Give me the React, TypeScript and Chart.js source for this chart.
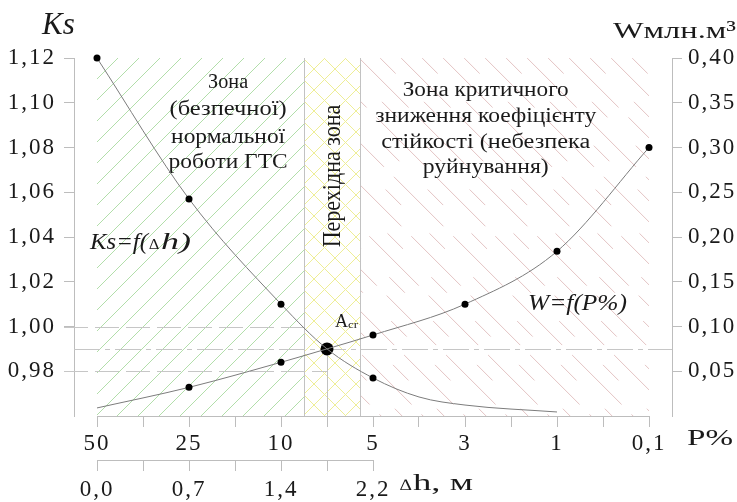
import React, { useEffect, useRef } from 'react';
import { Chart, registerables } from 'chart.js';

Chart.register(...registerables);

// ---- data ----
const pTickLabels = ['50', '', '25', '', '10', '', '5', '', '3', '', '1', '', '0,1'];
const hTickLabels = ['0,0', '', '0,7', '', '1,4', '', '2,2'];
const ksTicks = [0.98, 1.0, 1.02, 1.04, 1.06, 1.08, 1.1, 1.12];
const wTicks = [0.05, 0.1, 0.15, 0.2, 0.25, 0.3, 0.35, 0.4];

const ksX = [0, 2, 4, 5, 6, 7, 8, 10];
const ksValues = [1.12, 1.057, 1.01, 0.99, 0.977, 0.9685, 0.9649, 0.9618];
const ksMarked = [true, true, true, false, true, false, false, false];

const wX = [0, 2, 4, 5, 6, 8, 10, 12];
const wValues = [0.009, 0.032, 0.06, 0.075, 0.0905, 0.125, 0.184, 0.3];
const wMarked = [false, true, true, false, true, true, true, true];

const acrX = 5;
const acrKs = 0.99;
const zoneBounds = [0, 4.5, 5.72, 12];
const ksMin = 0.96, ksMax = 1.12;
const wMin = 0, wMax = 0.4;
const xMin = -0.5, xMax = 12.5;

const SERIF = 'Liberation Serif';

function drawText(ctx: CanvasRenderingContext2D, text: string, x: number, y: number, font: string, targetWidth?: number, align: 'left' | 'center' = 'left') {
  ctx.save();
  ctx.font = font;
  ctx.textAlign = 'left';
  ctx.textBaseline = 'alphabetic';
  const w = ctx.measureText(text).width;
  const sx = targetWidth ? targetWidth / w : 1;
  const x0 = align === 'center' ? x - (w * sx) / 2 : x;
  ctx.translate(x0, y);
  ctx.scale(sx, 1);
  ctx.fillStyle = '#1a1a1a';
  ctx.fillText(text, 0, 0);
  ctx.restore();
}

function hatch(ctx: CanvasRenderingContext2D, x0: number, y0: number, x1: number, y1: number, step: number, dir: number, color: string, dashes?: number[][]) {
  ctx.save();
  ctx.beginPath();
  ctx.rect(x0, y0, x1 - x0, y1 - y0);
  ctx.clip();
  ctx.strokeStyle = color;
  ctx.lineWidth = 1;
  const H = y1 - y0;
  let k = 0;
  for (let x = x0 - H - step; x <= x1 + step; x += step, k++) {
    if (dashes) ctx.setLineDash(dashes[k % dashes.length]);
    ctx.beginPath();
    if (dir > 0) {
      ctx.moveTo(x, y1);
      ctx.lineTo(x + H, y0);
    } else {
      ctx.moveTo(x, y0);
      ctx.lineTo(x + H, y1);
    }
    ctx.stroke();
  }
  ctx.restore();
}

const overlay = {
  id: 'overlay',
  beforeDraw(chart: any) {
    (chart.ctx as any).letterSpacing = '2px';
  },
  beforeDatasetsDraw(chart: any) {
    const ctx: CanvasRenderingContext2D = chart.ctx;
    (ctx as any).letterSpacing = '0px';
    const { top, bottom, left, right } = chart.chartArea;
    const xs = chart.scales.x;
    const ys = chart.scales.y;
    const zx = zoneBounds.map((v) => xs.getPixelForValue(v));

    hatch(ctx, zx[0], top, zx[1], bottom, 21, 1, '#b2deaa');
    hatch(ctx, zx[1], top, zx[2], bottom, 21, 1, '#eeee96');
    hatch(ctx, zx[1], top, zx[2], bottom, 21, -1, '#eeee96');
    hatch(ctx, zx[2], top, zx[3], bottom, 21, -1, '#e3c3c3', [[70, 14], [22, 40]]);

    ctx.save();
    ctx.strokeStyle = '#c2c2c2';
    ctx.lineWidth = 1;
    [zx[1], zx[2]].forEach((px) => {
      ctx.beginPath();
      ctx.moveTo(Math.round(px) + 0.5, top);
      ctx.lineTo(Math.round(px) + 0.5, bottom);
      ctx.stroke();
    });
    const ax = xs.getPixelForValue(acrX);
    const ay = ys.getPixelForValue(acrKs);
    ctx.beginPath();
    ctx.moveTo(Math.round(ax) + 0.5, ay);
    ctx.lineTo(Math.round(ax) + 0.5, bottom);
    ctx.stroke();

    ctx.strokeStyle = '#c6c6c6';
    ctx.setLineDash([24, 7]);
    const y100 = Math.round(ys.getPixelForValue(1.0)) + 0.5;
    ctx.beginPath();
    ctx.moveTo(left - 10, y100);
    ctx.lineTo(zx[1], y100);
    ctx.stroke();
    const y098 = Math.round(ys.getPixelForValue(0.98)) + 0.5;
    ctx.beginPath();
    ctx.moveTo(left - 10, y098);
    ctx.lineTo(ax, y098);
    ctx.stroke();
    ctx.setLineDash([26, 5, 5, 5]);
    const yA = Math.round(ay) + 0.5;
    ctx.beginPath();
    ctx.moveTo(left, yA);
    ctx.lineTo(right, yA);
    ctx.stroke();
    ctx.restore();

    // zone texts
    const zf = `20px ${SERIF}`;
    const lc = xs.getPixelForValue(2.85);
    drawText(ctx, 'Зона', lc, 88, zf, 40, 'center');
    drawText(ctx, '(безпечної)', lc, 115, zf, 117, 'center');
    drawText(ctx, 'нормальної', lc, 143, zf, 114, 'center');
    drawText(ctx, 'роботи ГТС', lc, 168, zf, 119, 'center');

    const rc = xs.getPixelForValue(8.45);
    drawText(ctx, 'Зона критичного', rc, 96, zf, 166, 'center');
    drawText(ctx, 'зниження коефіцієнту', rc, 122, zf, 221, 'center');
    drawText(ctx, 'стійкості (небезпека', rc, 148, zf, 209, 'center');
    drawText(ctx, 'руйнування)', rc, 173, zf, 126, 'center');

    // rotated transition text
    ctx.save();
    const tcx = (zx[1] + zx[2]) / 2;
    ctx.translate(tcx, 176);
    ctx.rotate(-Math.PI / 2);
    ctx.scale(1, 1.12);
    ctx.font = `22px ${SERIF}`;
    ctx.textAlign = 'center';
    ctx.textBaseline = 'middle';
    ctx.fillStyle = '#1a1a1a';
    ctx.fillText('Перехідна зона', 0, 1);
    ctx.restore();

    // function labels
    drawText(ctx, 'Ks=f(', 90, 249, `italic 24px ${SERIF}`, 58);
    drawText(ctx, '∆', 149, 249, `italic 15px ${SERIF}`, 10);
    drawText(ctx, 'h)', 161, 249, `italic 24px ${SERIF}`, 30);
    drawText(ctx, 'W=f(P%)', 528, 310, `italic 24px ${SERIF}`, 99);

    // Acr label
    drawText(ctx, 'A', 335, 327, `18px ${SERIF}`, 13);
    drawText(ctx, 'cr', 348, 328, `11px ${SERIF}`, 10);
  },
  afterDraw(chart: any) {
    const ctx: CanvasRenderingContext2D = chart.ctx;
    (ctx as any).letterSpacing = '0px';
    const xs = chart.scales.x;
    const x2 = chart.scales.x2;
    ctx.save();
    ctx.strokeStyle = '#bdbdbd';
    ctx.lineWidth = 1;
    const yb = Math.round(xs.top) + 0.5;
    ctx.beginPath();
    ctx.moveTo(xs.getPixelForValue(0), yb);
    ctx.lineTo(xs.getPixelForValue(pTickLabels.length - 1), yb);
    ctx.stroke();
    const yb2 = Math.round(x2.top) + 0.5;
    ctx.beginPath();
    ctx.moveTo(x2.getPixelForValue(0), yb2);
    ctx.lineTo(x2.getPixelForValue(hTickLabels.length - 1), yb2);
    ctx.stroke();
    ctx.restore();

    drawText(ctx, 'Ks', 42, 34, `italic 31px ${SERIF}`);
    drawText(ctx, 'Wмлн.м³', 613, 38, `24px ${SERIF}`, 123);
    drawText(ctx, 'P%', 687, 445, `23px ${SERIF}`, 46);
    drawText(ctx, '∆', 400, 490, `16px ${SERIF}`, 12);
    drawText(ctx, 'h, м', 413, 490, `24px ${SERIF}`, 60);
  },
};

export default function App() {
  const ref = useRef<HTMLCanvasElement | null>(null);
  useEffect(() => {
    if (!ref.current) return;
    let chart: Chart | null = null;
    let cancelled = false;
    const build = () => {
      if (cancelled || !ref.current) return;
      const tickFont = { family: SERIF, size: 23 };
      const gridCfg = { drawOnChartArea: false, drawTicks: true, tickLength: 10, color: '#bdbdbd' };
      chart = new Chart(ref.current, {
        type: 'scatter',
        data: {
          datasets: [
            {
              data: ksX.map((x, i) => ({ x, y: ksValues[i] })),
              yAxisID: 'y',
              showLine: true,
              cubicInterpolationMode: 'monotone',
              borderColor: '#7c7c7c',
              borderWidth: 1,
              pointRadius: ksMarked.map((m) => (m ? 3.5 : 0)),
              pointBackgroundColor: '#000',
              pointBorderWidth: 0,
              clip: false,
            } as any,
            {
              data: wX.map((x, i) => ({ x, y: wValues[i] })),
              yAxisID: 'y1',
              showLine: true,
              cubicInterpolationMode: 'monotone',
              borderColor: '#7c7c7c',
              borderWidth: 1,
              pointRadius: wMarked.map((m) => (m ? 3.5 : 0)),
              pointBackgroundColor: '#000',
              pointBorderWidth: 0,
              clip: false,
            } as any,
            {
              data: [{ x: acrX, y: acrKs }],
              yAxisID: 'y',
              showLine: false,
              pointRadius: 6.5,
              pointBackgroundColor: '#000',
              pointBorderWidth: 0,
              clip: false,
            } as any,
          ],
        },
        options: {
          animation: false,
          responsive: false,
          devicePixelRatio: 1,
          layout: { padding: { top: 58, left: 0, right: 0, bottom: 0 } },
          plugins: { legend: { display: false }, tooltip: { enabled: false } },
          scales: {
            x: {
              type: 'linear',
              position: 'bottom',
              min: xMin,
              max: xMax,
              weight: 0,
              afterBuildTicks: (s: any) => {
                s.ticks = pTickLabels.map((_, i) => ({ value: i }));
              },
              afterFit: (s: any) => {
                s.height = 44;
              },
              ticks: {
                autoSkip: false,
                maxRotation: 0,
                padding: 3,
                font: tickFont,
                color: '#1a1a1a',
                callback: (v: any) => pTickLabels[Math.round(v)] ?? '',
              },
              grid: { ...gridCfg, tickLength: 11 },
              border: { display: false },
            },
            x2: {
              type: 'linear',
              position: 'bottom',
              min: xMin,
              max: xMax,
              weight: 1,
              afterBuildTicks: (s: any) => {
                s.ticks = hTickLabels.map((_, i) => ({ value: i }));
              },
              afterFit: (s: any) => {
                s.height = 42;
              },
              ticks: {
                autoSkip: false,
                maxRotation: 0,
                padding: 5,
                font: tickFont,
                color: '#1a1a1a',
                callback: (v: any) => hTickLabels[Math.round(v)] ?? '',
              },
              grid: { ...gridCfg, tickLength: 11 },
              border: { display: false },
            },
            y: {
              type: 'linear',
              position: 'left',
              min: ksMin,
              max: ksMax,
              afterBuildTicks: (s: any) => {
                s.ticks = ksTicks.map((v) => ({ value: v }));
              },
              afterFit: (s: any) => {
                s.width = 74;
              },
              ticks: {
                padding: 8,
                font: tickFont,
                color: '#1a1a1a',
                callback: (v: any) => Number(v).toFixed(2).replace('.', ','),
              },
              grid: gridCfg,
              border: { display: true, color: '#bdbdbd', width: 1 },
            },
            y1: {
              type: 'linear',
              position: 'right',
              min: wMin,
              max: wMax,
              afterBuildTicks: (s: any) => {
                s.ticks = wTicks.map((v) => ({ value: v }));
              },
              afterFit: (s: any) => {
                s.width = 65;
              },
              ticks: {
                padding: 6,
                font: tickFont,
                color: '#1a1a1a',
                callback: (v: any) => Number(v).toFixed(2).replace('.', ','),
              },
              grid: gridCfg,
              border: { display: true, color: '#bdbdbd', width: 1 },
            },
          },
        } as any,
        plugins: [overlay],
      });
    };
    const fonts = (document as any).fonts;
    if (fonts && fonts.load) {
      Promise.all([
        fonts.load('23px "Liberation Serif"'),
        fonts.load('italic 24px "Liberation Serif"'),
      ]).then(build, build);
    } else {
      build();
    }
    return () => {
      cancelled = true;
      if (chart) chart.destroy();
    };
  }, []);
  return (
    <div style={{ position: 'absolute', left: 0, top: 0, width: 737, height: 502, background: '#fff' }}>
      <canvas ref={ref} width={737} height={502} style={{ display: 'block', width: 737, height: 502 }} />
    </div>
  );
}
